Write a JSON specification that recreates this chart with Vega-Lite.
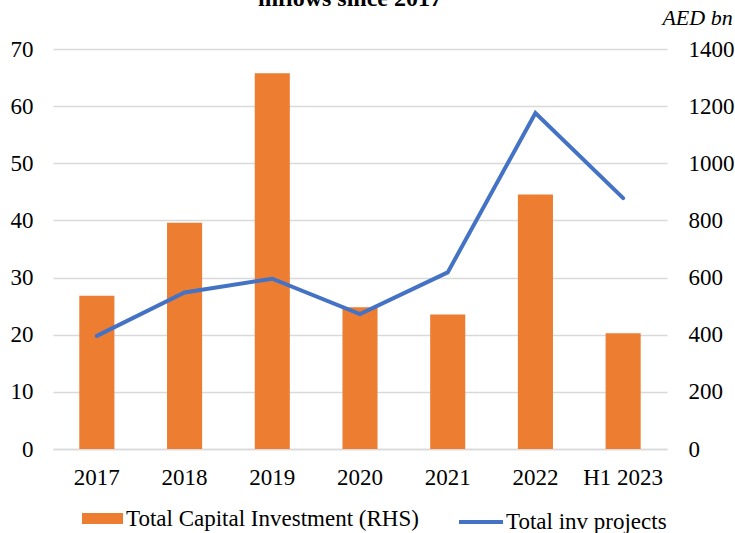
{
  "$schema": "https://vega.github.io/schema/vega-lite/v6.json",
  "autosize": "none",
  "width": 614,
  "height": 400,
  "padding": {"left": 53, "top": 49, "right": 68, "bottom": 84},
  "background": "white",
  "config": {
    "font": "Liberation Serif",
    "view": {"stroke": null},
    "axis": {"labelFont": "Liberation Serif", "labelFontSize": 23, "labelColor": "#000000", "ticks": false}
  },
  "title": {
    "text": "inflows since 2017",
    "font": "Liberation Serif",
    "fontSize": 24,
    "fontWeight": "bold",
    "color": "#000000",
    "anchor": "middle",
    "baseline": "alphabetic",
    "offset": 0,
    "dx": -10,
    "dy": 24
  },
  "data": {
    "values": [
      {"period": "2017", "capital": 536, "projects": 19.8},
      {"period": "2018", "capital": 792, "projects": 27.4},
      {"period": "2019", "capital": 1315, "projects": 29.8},
      {"period": "2020", "capital": 496, "projects": 23.6},
      {"period": "2021", "capital": 471, "projects": 30.9},
      {"period": "2022", "capital": 891, "projects": 58.8},
      {"period": "H1 2023", "capital": 405, "projects": 43.9}
    ]
  },
  "encoding": {
    "x": {
      "field": "period",
      "type": "ordinal",
      "sort": null,
      "scale": {"paddingInner": 0.6, "paddingOuter": 0.3},
      "axis": {
        "title": null,
        "labelAngle": 0,
        "labelPadding": 17,
        "domain": true,
        "domainColor": "#d9d9d9",
        "domainWidth": 1.5,
        "grid": false
      }
    }
  },
  "layer": [
    {
      "mark": {"type": "bar", "color": "#ED7D31"},
      "encoding": {
        "y": {
          "field": "capital",
          "type": "quantitative",
          "scale": {"domain": [0, 1400]},
          "axis": {
            "orient": "right",
            "values": [0, 200, 400, 600, 800, 1000, 1200, 1400],
            "format": "d",
            "domain": false,
            "grid": true,
            "gridColor": "#d9d9d9",
            "gridWidth": 1.5,
            "labelPadding": 21,
            "labelAlign": "left",
            "title": "AED bn",
            "titleFont": "Liberation Serif",
            "titleFontStyle": "italic",
            "titleFontWeight": "normal",
            "titleFontSize": 22,
            "titleColor": "#000000",
            "titleAngle": 0,
            "titleAlign": "center",
            "titleBaseline": "middle",
            "titleX": 30,
            "titleY": -32
          }
        },
        "fill": {
          "datum": "Total Capital Investment (RHS)",
          "type": "nominal",
          "scale": {"range": ["#ED7D31"]},
          "legend": {
            "title": null,
            "orient": "none",
            "legendX": 29,
            "legendY": 449,
            "symbolType": "M-1,-0.27H1V0.27H-1Z",
            "symbolSize": 1681,
            "symbolStrokeWidth": 0,
            "labelFont": "Liberation Serif",
            "labelFontSize": 23,
            "labelColor": "#000000",
            "labelOffset": 3,
            "labelLimit": 0,
            "padding": 0
          }
        }
      }
    },
    {
      "mark": {"type": "line", "strokeWidth": 4, "strokeCap": "round", "strokeJoin": "miter"},
      "encoding": {
        "y": {
          "field": "projects",
          "type": "quantitative",
          "scale": {"domain": [0, 70]},
          "axis": {
            "orient": "left",
            "values": [0, 10, 20, 30, 40, 50, 60, 70],
            "domain": false,
            "grid": false,
            "labelPadding": 20,
            "title": null
          }
        },
        "color": {
          "datum": "Total inv projects",
          "type": "nominal",
          "scale": {"range": ["#4472C4"]},
          "legend": {
            "title": null,
            "orient": "none",
            "legendX": 404,
            "legendY": 449,
            "symbolType": "stroke",
            "symbolSize": 1936,
            "symbolStrokeWidth": 4,
            "labelFont": "Liberation Serif",
            "labelFontSize": 23,
            "labelColor": "#000000",
            "labelOffset": 1,
            "labelLimit": 0,
            "padding": 0
          }
        }
      }
    }
  ],
  "resolve": {"scale": {"y": "independent"}}
}
